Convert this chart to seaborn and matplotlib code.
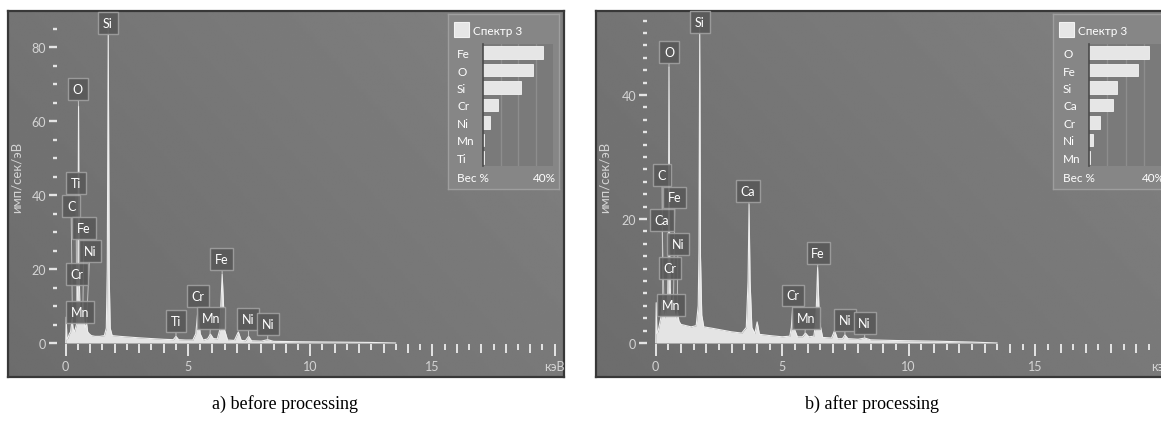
import numpy as np
import matplotlib
matplotlib.use("Agg")
import matplotlib.pyplot as plt
import seaborn as sns
from matplotlib.ticker import FixedLocator
from matplotlib.patches import Rectangle

# ---------------- data ----------------
# spectrum a) before processing (keV, counts/s/eV)
energy_a = [0.00, 0.02, 0.05, 0.10, 0.15, 0.20, 0.26, 0.30, 0.36, 0.42, 0.46, 0.50, 0.525, 0.55,
            0.58, 0.62, 0.65, 0.70, 0.74, 0.80, 0.85, 0.90, 0.96, 1.05, 1.20, 1.40, 1.58, 1.66,
            1.70, 1.74, 1.78, 1.82, 1.90, 2.20, 2.60, 3.00, 3.50, 4.00, 4.40, 4.51, 4.62, 4.90,
            5.20, 5.32, 5.41, 5.50, 5.62, 5.80, 5.92, 6.04, 6.20, 6.30, 6.40, 6.50, 6.62, 6.90,
            7.06, 7.18, 7.35, 7.48, 7.60, 8.00, 8.26, 8.50, 9.50, 11.0, 12.5, 13.5]
counts_a = [0.0, 7.0, 1.0, 1.5, 2.5, 3.0, 6.5, 4.0, 3.0, 4.5, 5.5, 20.0, 64.0, 20.0,
            9.0, 6.0, 7.5, 11.0, 6.0, 4.0, 5.5, 3.0, 2.5, 2.0, 1.8, 1.8, 2.0, 4.0,
            20.0, 83.5, 18.0, 4.0, 2.0, 1.8, 1.6, 1.4, 1.2, 1.0, 0.9, 1.8, 0.9, 0.8,
            0.8, 2.5, 9.0, 2.5, 0.8, 1.1, 2.4, 1.2, 1.1, 3.5, 18.5, 3.5, 0.8, 0.7,
            3.0, 0.7, 0.6, 1.8, 0.6, 0.5, 0.9, 0.45, 0.35, 0.25, 0.15, 0.0]

# spectrum b) after processing
energy_b = [0.00, 0.02, 0.05, 0.10, 0.15, 0.20, 0.26, 0.30, 0.36, 0.42, 0.48, 0.50, 0.525, 0.55,
            0.58, 0.64, 0.70, 0.74, 0.80, 0.86, 0.92, 1.00, 1.20, 1.40, 1.60, 1.68, 1.71, 1.74,
            1.77, 1.82, 1.90, 2.20, 2.60, 3.00, 3.40, 3.58, 3.65, 3.69, 3.73, 3.80, 3.92, 4.01,
            4.10, 4.50, 5.00, 5.30, 5.36, 5.41, 5.46, 5.60, 5.80, 5.92, 6.05, 6.25, 6.33, 6.40,
            6.47, 6.60, 6.95, 7.07, 7.18, 7.38, 7.48, 7.60, 8.00, 8.26, 8.50, 9.50, 11.0, 12.5, 13.5]
counts_b = [0.0, 6.5, 1.5, 2.0, 3.0, 4.0, 7.0, 5.0, 4.0, 5.5, 8.0, 15.0, 44.5, 15.0,
            7.0, 6.0, 7.5, 5.0, 4.0, 5.0, 3.5, 3.0, 2.8, 2.6, 2.8, 6.0, 15.0, 50.0,
            14.0, 4.5, 2.6, 2.4, 2.1, 1.8, 1.6, 2.5, 10.0, 22.3, 10.0, 2.5, 1.5, 3.4,
            1.4, 1.2, 1.0, 1.1, 2.5, 5.5, 2.5, 1.0, 1.0, 1.6, 1.0, 1.1, 3.5, 12.2,
            3.5, 0.9, 0.8, 2.0, 0.7, 0.7, 1.3, 0.7, 0.6, 0.8, 0.5, 0.4, 0.3, 0.15, 0.0]

# peak labels: element, line energy (keV), label centre (keV, counts)
labels_a = ["Si", "O", "Ti", "C", "Fe", "Ni", "Cr", "Mn", "Ti", "Cr", "Mn", "Fe", "Ni", "Ni"]
label_energy_a = [1.74, 0.525, 0.452, 0.277, 0.705, 0.851, 0.573, 0.637, 4.51, 5.41, 5.90, 6.40, 7.48, 8.26]
label_x_a = [1.73, 0.50, 0.42, 0.22, 0.75, 0.99, 0.46, 0.58, 4.51, 5.41, 5.94, 6.39, 7.46, 8.27]
label_y_a = [86.5, 68.6, 43.2, 37.0, 31.1, 24.9, 18.6, 8.4, 5.9, 12.7, 6.8, 22.7, 6.5, 5.1]

labels_b = ["Si", "O", "C", "Fe", "Ca", "Ni", "Cr", "Mn", "Ca", "Cr", "Mn", "Fe", "Ni", "Ni"]
label_energy_b = [1.74, 0.525, 0.277, 0.705, 0.341, 0.851, 0.573, 0.637, 3.69, 5.41, 5.90, 6.40, 7.48, 8.26]
label_x_b = [1.75, 0.53, 0.25, 0.76, 0.25, 0.88, 0.57, 0.60, 3.65, 5.43, 5.94, 6.42, 7.47, 8.26]
label_y_b = [51.8, 46.9, 27.1, 23.5, 19.8, 16.0, 12.1, 6.1, 24.5, 7.7, 4.0, 14.5, 3.7, 3.2]

# inset weight % bars
inset_el_a = ["Fe", "O", "Si", "Cr", "Ni", "Mn", "Ti"]
inset_wt_a = [34.3, 28.6, 21.7, 8.6, 4.0, 0.3, 0.3]
inset_el_b = ["O", "Fe", "Si", "Ca", "Cr", "Ni", "Mn"]
inset_wt_b = [33.1, 27.1, 15.2, 13.4, 6.0, 2.4, 0.3]

xmajor = [0, 5, 10, 15, 20]
xmajor_labels = ["0", "5", "10", "15", "кэВ"]
ymajor_a = [0, 20, 40, 60, 80]
yminor_a = [v for v in range(5, 90, 5) if v % 20]
ymajor_b = [0, 20, 40]
yminor_b = [v for v in range(2, 54, 2) if v % 20]
caption_a = "a) before processing"
caption_b = "b) after processing"
ylabel = "имп/сек/эВ"
inset_title = "Спектр 3"

# ---------------- style ----------------
sns.set_theme(style="white")
plt.rcParams["font.family"] = ["Lato", "DejaVu Sans"]

W, H = 1161, 427
fig = plt.figure(figsize=(W / 100, H / 100), dpi=100)
fig.patch.set_facecolor("white")


def rect(x0, y0, x1, y1):
    return [x0 / W, 1 - y1 / H, (x1 - x0) / W, (y1 - y0) / H]


TICK_C = "#e4e4e4"
LAB_C = "#d4d4d4"


def panel(x0, y0, x1, y1, px0, py0, sx, sy, energy, counts, ymaj, ymin,
          labs, lab_e, lab_x, lab_y):
    r = rect(x0, y0, x1, y1)
    fax = fig.add_axes(r, zorder=0)
    gx = np.linspace(0, 1, 240)[None, :]
    gy = np.linspace(0, 1, 120)[:, None]
    grad = 0.425 + 0.05 * gx + 0.03 * gy
    fax.imshow(grad, extent=[0, 1, 0, 1], origin="lower", aspect="auto",
               cmap="gray", vmin=0, vmax=1, interpolation="bilinear")
    fax.set_xlim(0, 1)
    fax.set_ylim(0, 1)
    fax.set_xticks([])
    fax.set_yticks([])
    for s in fax.spines.values():
        s.set_color("#383838")
        s.set_linewidth(1.6)

    ax = fig.add_axes(r, zorder=1)
    ax.set_facecolor("none")
    xlim = ((x0 - px0) / sx, (x1 - px0) / sx)
    ylim = ((py0 - y1) / sy, (py0 - y0) / sy)

    ax.fill_between(energy, counts, 0, color="#e4e4e4", lw=0, zorder=2)
    sns.lineplot(x=energy, y=counts, ax=ax, color="#eeeeee", lw=0.8,
                 sort=False, estimator=None, zorder=3)
    ax.set_xlim(*xlim)
    ax.set_ylim(*ylim)
    ax.set_xlabel("")

    for s in ("top", "right"):
        ax.spines[s].set_visible(False)
    ax.spines["left"].set_position(("data", -8.7 / sx))
    ax.spines["bottom"].set_position(("data", -1.0 / sy))
    ax.spines["left"].set_color("none")
    ax.spines["bottom"].set_color("none")

    ax.yaxis.set_major_locator(FixedLocator(ymaj))
    ax.yaxis.set_minor_locator(FixedLocator(ymin))
    ax.set_xticks(xmajor, labels=xmajor_labels)
    ax.xaxis.set_minor_locator(FixedLocator([v for v in range(1, 21) if v % 5]))

    ax.tick_params(axis="y", which="major", left=True, direction="out", length=5.8,
                   width=1.7, color=TICK_C, labelcolor=LAB_C, labelsize=9, pad=2)
    ax.tick_params(axis="y", which="minor", left=True, direction="out", length=2.9,
                   width=1.7, color=TICK_C)
    ax.tick_params(axis="x", which="major", bottom=True, direction="out", length=8.6,
                   width=1.4, color=TICK_C, labelcolor=LAB_C, labelsize=9, pad=3)
    ax.tick_params(axis="x", which="minor", bottom=True, direction="out", length=6.3,
                   width=1.4, color=TICK_C)

    loc = (-1.0 / sy - ylim[0]) / (ylim[1] - ylim[0])
    sec = ax.secondary_xaxis(loc)
    halves = [v + 0.5 for v in range(0, 20)]
    sec.set_xticks(halves, labels=[""] * len(halves))
    sec.tick_params(axis="x", which="major", direction="out", length=4.2, width=1.4,
                    color=TICK_C)
    for s in sec.spines.values():
        s.set_color("none")

    ax.set_ylabel(ylabel, fontsize=9.5, color=LAB_C)
    ax.yaxis.set_label_coords(15 / (x1 - x0), (y1 - 177) / (y1 - y0))

    for name, e, lx, ly in zip(labs, lab_e, lab_x, lab_y):
        h = float(np.interp(e, energy, counts))
        ax.annotate(name, xy=(e, h), xytext=(lx, ly), textcoords="data",
                    ha="center", va="center", fontsize=9, color="white", zorder=5,
                    bbox=dict(boxstyle="square,pad=0.38", fc="#585858", ec="#a2a2a2",
                              lw=1.0, alpha=0.88),
                    arrowprops=dict(arrowstyle="-", color="#d6d6d6", lw=0.7,
                                    shrinkA=0, shrinkB=0, alpha=0.8))
    return ax


def inset(bx0, by0, bx1, by1, ax0, ax1, elements, values, lab_off):
    box = fig.add_axes(rect(bx0, by0, bx1, by1), zorder=6)
    box.set_xlim(bx0, bx1)
    box.set_ylim(by1, by0)
    box.set_facecolor("#868686")
    for s in box.spines.values():
        s.set_color("#9e9e9e")
        s.set_linewidth(1.0)
    box.set_xticks([])
    box.set_yticks([])
    box.add_patch(Rectangle((bx0 + 6, by0 + 8), 15, 15, fc="#e6e6e6", ec="#f2f2f2", lw=0.8))
    box.text(bx0 + 25, by0 + 16.5, inset_title, ha="left", va="center",
             fontsize=8.5, color="white")
    box.text(bx0 + lab_off, 178, "Вес %", ha="left", va="center", fontsize=8.5, color="white")
    box.text(ax1 + 3, 178, "40%", ha="right", va="center", fontsize=8.5, color="white")

    bax = fig.add_axes(rect(ax0, 45, ax1, 167), zorder=7)
    sns.barplot(x=values, y=elements, orient="h", color="#e6e6e6", width=0.72,
                edgecolor="#f4f4f4", linewidth=0.6, saturation=1, ax=bax)
    bax.set_xlim(0, 40)
    bax.set_facecolor("#7a7a7a")
    bax.set_xticks([10, 20, 30])
    bax.grid(True, axis="x", color="#8d8d8d", lw=1.0)
    bax.set_axisbelow(True)
    bax.set_xlabel("")
    bax.set_ylabel("")
    for s in ("top", "right", "bottom"):
        bax.spines[s].set_visible(False)
    bax.spines["left"].set_color("#4a4a4a")
    bax.spines["left"].set_linewidth(1.2)
    bax.tick_params(axis="x", length=0, labelbottom=False)
    bax.tick_params(axis="y", length=0, labelsize=8.5, labelcolor="white",
                    pad=(ax0 - (bx0 + lab_off)) * 0.72)
    for t in bax.get_yticklabels():
        t.set_ha("left")


panel(8, 12, 564, 378, 65.7, 344, 24.45, 3.7, energy_a, counts_a, ymajor_a, yminor_a,
      labels_a, label_energy_a, label_x_a, label_y_a)
panel(596, 12, 1171, 378, 655.7, 344, 25.3, 6.2, energy_b, counts_b, ymajor_b, yminor_b,
      labels_b, label_energy_b, label_x_b, label_y_b)

inset(448, 15, 559, 190, 483, 553, inset_el_a, inset_wt_a, 9)
inset(1053, 15, 1164, 190, 1089, 1162, inset_el_b, inset_wt_b, 10)

fig.text(285 / W, 1 - 404 / H, caption_a, ha="center", va="center", fontsize=13,
         family="Liberation Serif", color="black")
fig.text(872 / W, 1 - 404 / H, caption_b, ha="center", va="center", fontsize=13,
         family="Liberation Serif", color="black")

fig.savefig("out.png", dpi=100, facecolor="white")
